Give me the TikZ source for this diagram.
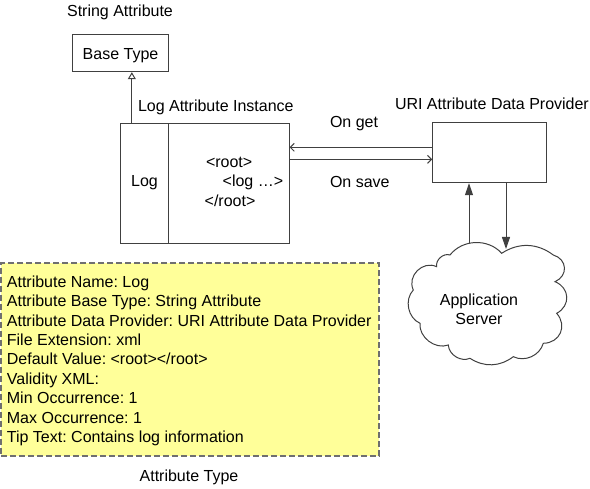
\documentclass[tikz,border=0pt]{standalone}
\usepackage{fontspec}
\setmainfont{Liberation Sans}
\usetikzlibrary{arrows.meta}
\definecolor{noteyellow}{HTML}{FFFF99}
\definecolor{linegray}{HTML}{404040}
\definecolor{dashgray}{HTML}{6F6F6F}
\frenchspacing
\begin{document}
\begin{tikzpicture}[x=1pt,y=-1pt,
  txt/.style={inner sep=0pt, font=\fontsize{16}{19.4}\selectfont},
  box/.style={draw=linegray, line width=1pt, inner sep=0pt},
  conn/.style={draw=linegray, line width=1pt},
  inherit/.style={conn, -{Triangle[open,length=7pt,width=8pt]}},
  barb/.style={conn, -{Straight Barb[length=4pt,width=8pt]}},
  solidtip/.style={conn, -{Triangle[length=12pt,width=8pt]}},
  note/.style={draw=dashgray, fill=noteyellow, line width=1.5pt, dash pattern=on 6pt off 3pt, inner sep=0pt}
]
\useasboundingbox (0,0) rectangle (590,489);

% attribute type note
\node[note, minimum width=378pt, minimum height=193pt] (attrbox) at (190,359.5) {};
\foreach \t [count=\i from 0] in {Attribute Name: Log,
  Attribute Base Type: String Attribute,
  Attribute Data Provider: URI Attribute Data Provider,
  File Extension: xml,
  Default Value: <root></root>,
  Validity XML:,
  Min Occurrence: 1,
  Max Occurrence: 1,
  Tip Text: Contains log information}
  \node[txt, anchor=base west] (line\i) at (6.7,287.3+19.4*\i) {\t};
\node[txt, anchor=base] (attrtype) at (189,482) {Attribute Type};

% base type
\node[txt, anchor=base] (strattr) at (120,17) {String Attribute};
\node[box, minimum width=96pt, minimum height=37.4pt] (base) at (120.3,53) {};
\node[txt, anchor=base] (basetxt) at (120.5,60) {Base Type};

% log attribute instance
\node[box, minimum width=48.3pt, minimum height=119.7pt] (logl) at (144.2,183.2) {};
\node[box, minimum width=120.7pt, minimum height=119.7pt] (logr) at (228.7,183.2) {};
\node[txt, anchor=base west] (loginst) at (137.8,112) {Log Attribute Instance};
\node[txt, anchor=base] (logtxt) at (144.5,187) {Log};
\node[txt, anchor=base west] (root1) at (205.8,167.5) {<root>};
\node[txt, anchor=base west] (root2) at (222.5,187) {<log …>};
\node[txt, anchor=base west] (root3) at (204.5,206.5) {</root>};

\draw[inherit] ([xshift=12.3pt]logl.north west) -- ([xshift=12.3pt]logl.north west |- base.south);

% URI provider
\node[box, minimum width=114pt, minimum height=60pt] (uri) at (489.7,152.7) {};
\node[txt, anchor=base west] (uritxt) at (394.8,110) {URI Attribute Data Provider};
\node[txt, anchor=base west] (onget) at (329.8,127.5) {On get};
\node[txt, anchor=base west] (onsave) at (329.8,188) {On save};

\draw[barb] ([yshift=5.4pt]uri.west) -- ([yshift=5.4pt]uri.west -| logr.east);
\draw[barb] ([yshift=-6.6pt]uri.west -| logr.east) -- ([yshift=-6.6pt]uri.west);

% cloud
\draw[linegray, line width=1pt]
  (436.7,266.7) to[bend left=60] (450,255)
  to[bend left=50] (501.7,253.3)
  to[bend left=35] (553.3,255)
  to[bend left=70, looseness=1.4] (555,281.7)
  to[bend left=65, looseness=1.3] (556.7,313.3)
  to[bend left=65, looseness=1.3] (543.3,343.3)
  to[bend left=50] (513.3,356.7)
  to[bend left=35] (470,358.3)
  to[bend left=55] (448.3,345)
  to[bend left=58] (420,323.3)
  to[bend left=55] (413.3,290)
  to[bend left=70, looseness=1.2] cycle;
\node[txt, anchor=base] (app1) at (479,306) {Application};
\node[txt, anchor=base] (app2) at (479,325) {Server};
\coordinate (cup) at (469,243.5);
\coordinate (cdown) at (506,249);

\draw[solidtip] (cup) -- (cup |- uri.south);
\draw[solidtip] (cdown |- uri.south) -- (cdown);
\end{tikzpicture}
\end{document}
